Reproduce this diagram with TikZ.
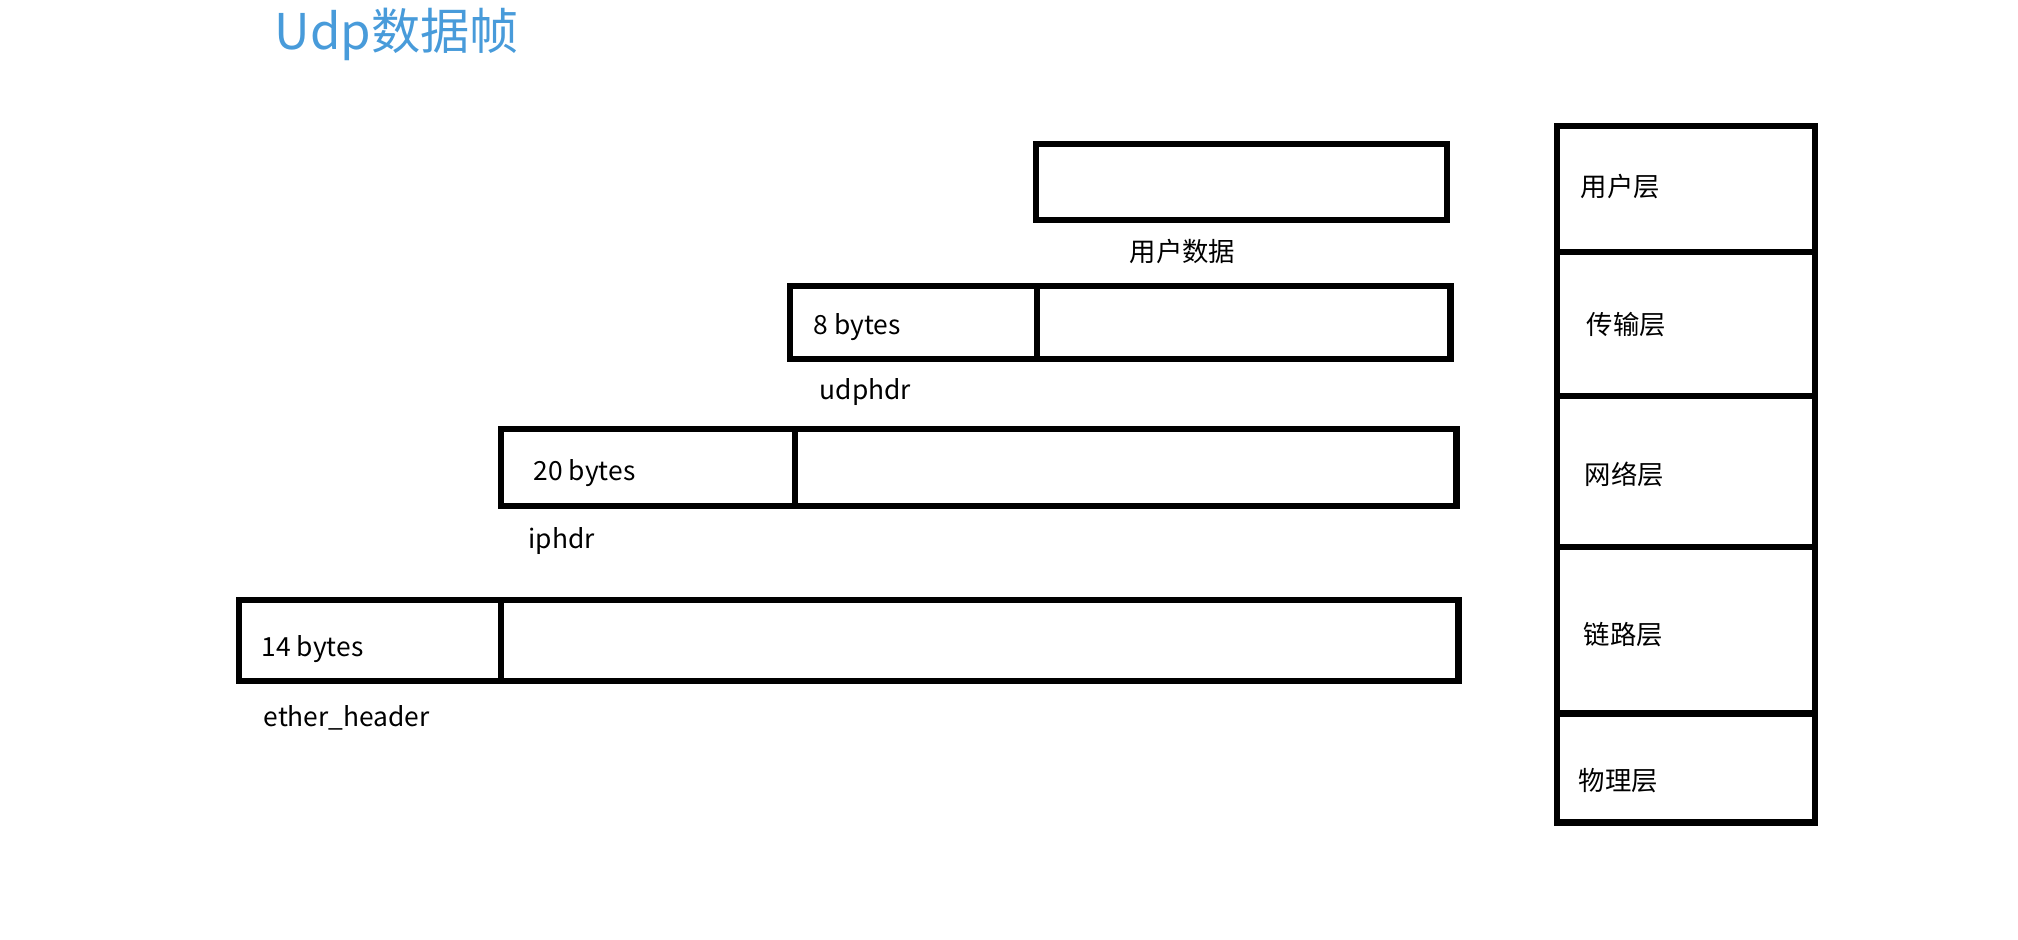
\documentclass[tikz,border=0pt]{standalone}
\usepackage{fontspec}
\setmainfont{Noto Sans CJK SC}
\usepackage{tikz}
\usetikzlibrary{positioning}
\definecolor{titleblue}{RGB}{72,155,218}

\begin{document}
\begin{tikzpicture} %
		[
			x=0.01cm, y=-0.01cm,
			font={\fontsize{7.5}{9}\selectfont},
			cell/.style={
				draw,
				line width=1.85pt,
				inner sep=0,
				outer sep=0,
			},
			layer/.style={cell, minimum width=2.58cm},
			txt/.style={anchor=west, inner sep=0},
			title/.style={txt, text=titleblue, font={\fontsize{14}{16}\selectfont}},
		]
		\useasboundingbox (0,0) rectangle (2018,940);
		\node[title] (ttl) at (274,34) {Udp数据帧};
		% user data
		\node[cell, minimum width=4.11cm, minimum height=0.76cm] 
		(usr) at (1241.5,182) {};
		\node[txt] (usrcap) at (1129,251) {用户数据};
		% udp
		\node[cell, minimum width=2.47cm, minimum height=0.73cm] 
		(udph) at (913.5,322.5) {};
		\node[cell, minimum width=4.13cm, minimum height=0.73cm, right=0pt of udph] 
		(udpd) {};
		\node[txt] (udpb) at (813,327) {8 bytes};
		\node[txt] (udpcap) at (819,392) {udphdr};
		% ip
		\node[cell, minimum width=2.94cm, minimum height=0.77cm] 
		(iph) at (648,467.5) {};
		\node[cell, minimum width=6.61cm, minimum height=0.77cm, right=0pt of iph] 
		(ipd) {};
		\node[txt] (ipb) at (533,473) {20 bytes};
		\node[txt] (ipcap) at (528,541) {iphdr};
		% ether
		\node[cell, minimum width=2.62cm, minimum height=0.81cm] 
		(eth) at (370,640.5) {};
		\node[cell, minimum width=9.57cm, minimum height=0.81cm, right=0pt of eth] 
		(etd) {};
		\node[txt] (etb) at (261,649) {14 bytes};
		\node[txt] (etcap) at (263,718) {ether\_header};
		% layers
		\node[layer, minimum height=1.26cm] (l1) at (1686,189) {};
		\node[layer, minimum height=1.44cm, below=0pt of l1] (l2) {};
		\node[layer, minimum height=1.51cm, below=0pt of l2] (l3) {};
		\node[layer, minimum height=1.66cm, below=0pt of l3] (l4) {};
		\node[layer, minimum height=1.09cm, below=0pt of l4] (l5) {};
		\node[txt] (l1t) at (1580,187) {用户层};
		\node[txt] (l2t) at (1586,325) {传输层};
		\node[txt] (l3t) at (1584,474) {网络层};
		\node[txt] (l4t) at (1583,635) {链路层};
		\node[txt] (l5t) at (1578,781) {物理层};
	\end{tikzpicture}
\end{document}
